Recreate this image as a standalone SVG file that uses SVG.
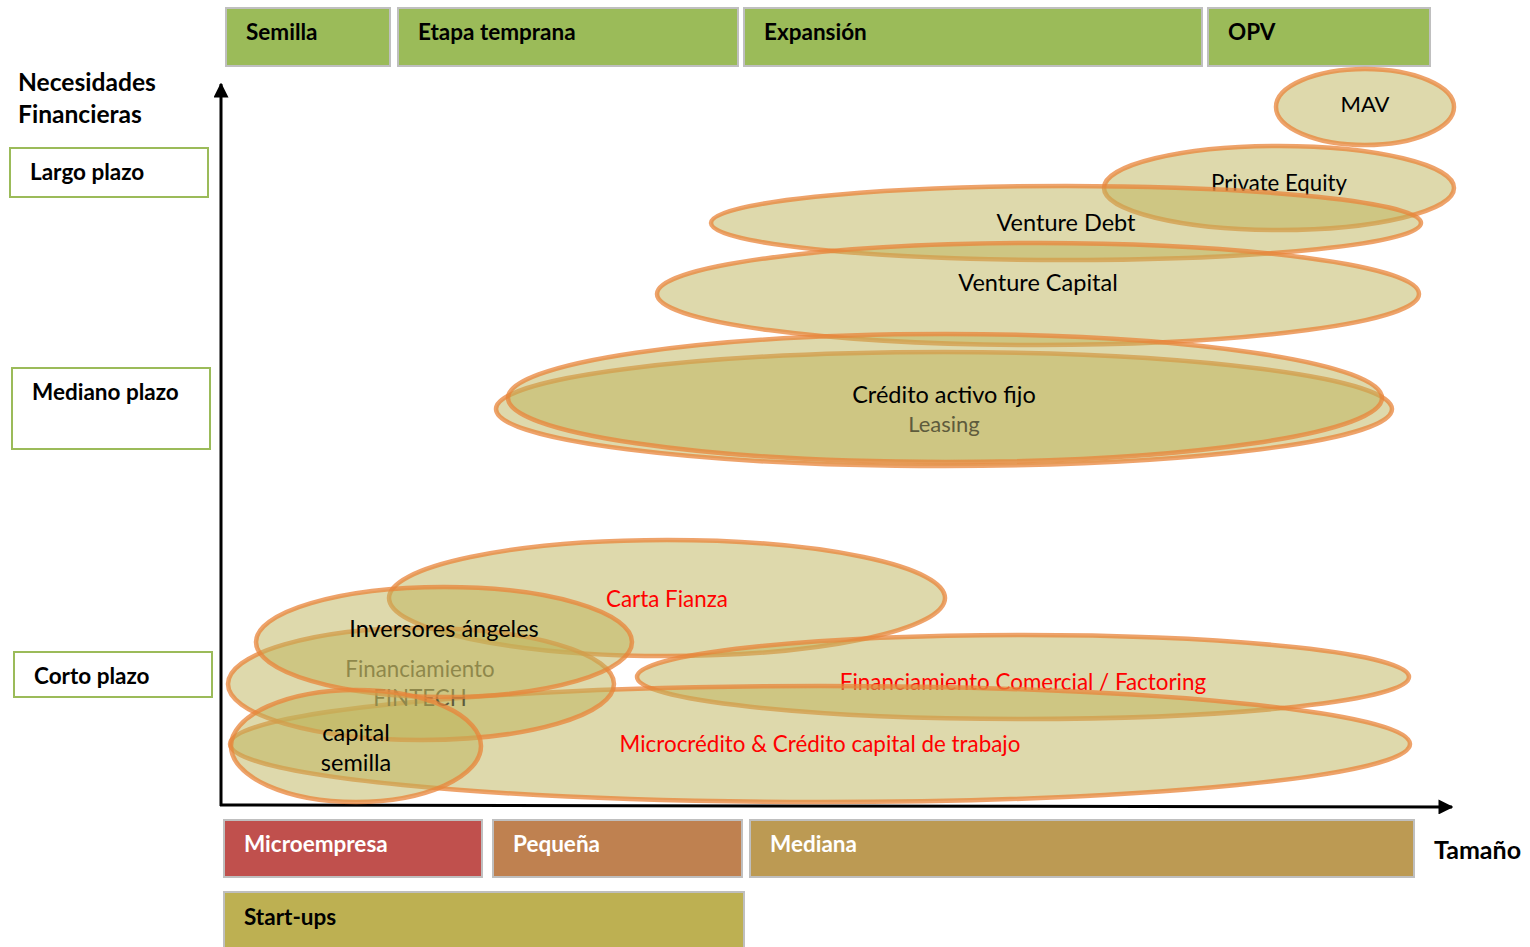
<svg xmlns="http://www.w3.org/2000/svg" width="1530" height="947" viewBox="0 0 1530 947">
<style>
.stage{fill:#9BBB59;stroke:#BFBFBF;stroke-width:2}
.term{fill:#FFFFFF;stroke:#9BBB59;stroke-width:2}
.hb{font-family:Lato,"Open Sans",sans-serif;font-weight:bold;font-size:22.5px;fill:#000}
.wb{font-family:Lato,"Open Sans",sans-serif;font-weight:bold;font-size:22.5px;fill:#FFFFFF}
.el{fill:#BDB35A;fill-opacity:0.5;stroke:#E8843A;stroke-opacity:0.75;stroke-width:4.5}
.t{font-family:Lato,"Open Sans",sans-serif;font-size:23.5px;fill:#000;text-anchor:middle}
.r{fill:#FF0000;font-size:22.4px}
.g{fill:#5E5B3C;font-size:22.3px}
.ax{stroke:#000;stroke-width:3;fill:none}
</style>
<defs>
<marker id="arr" viewBox="0 0 10 10" refX="9" refY="5" markerWidth="5" markerHeight="5" orient="auto" markerUnits="strokeWidth">
<path d="M0,0 L10,5 L0,10 z" fill="#000"/>
</marker>
</defs>
<g id="stage-semilla"><rect class="stage" x="226" y="8" width="164" height="58"/><text class="hb" x="246" y="40">Semilla</text></g>
<g id="stage-temprana"><rect class="stage" x="398" y="8" width="340" height="58"/><text class="hb" x="418" y="40">Etapa temprana</text></g>
<g id="stage-expansion"><rect class="stage" x="744" y="8" width="458" height="58"/><text class="hb" x="764" y="40">Expansión</text></g>
<g id="stage-opv"><rect class="stage" x="1208" y="8" width="222" height="58"/><text class="hb" x="1228" y="40">OPV</text></g>

<g id="title-necesidades"><text class="hb" x="18" y="91" style="font-size:24.6px">Necesidades</text><text class="hb" x="18" y="123" style="font-size:24.6px">Financieras</text></g>
<g id="term-largo"><rect class="term" x="10" y="148" width="198" height="49"/><text class="hb" x="30" y="180">Largo plazo</text></g>
<g id="term-mediano"><rect class="term" x="12" y="368" width="198" height="81"/><text class="hb" x="32" y="400">Mediano plazo</text></g>
<g id="term-corto"><rect class="term" x="14" y="652" width="198" height="45"/><text class="hb" x="34" y="684">Corto plazo</text></g>

<g id="connectors">
<line class="ax" x1="221" y1="806" x2="221" y2="84" marker-end="url(#arr)"/>
<line class="ax" x1="220" y1="805" x2="1452" y2="807" marker-end="url(#arr)"/>
</g>

<g id="size-micro"><rect x="224" y="820" width="258" height="57" fill="#C0504D" stroke="#BFBFBF" stroke-width="2"/><text class="wb" x="244" y="852">Microempresa</text></g>
<g id="size-pequena"><rect x="493" y="820" width="249" height="57" fill="#BF8150" stroke="#BFBFBF" stroke-width="2"/><text class="wb" x="513" y="852">Pequeña</text></g>
<g id="size-mediana"><rect x="750" y="820" width="664" height="57" fill="#BC9A53" stroke="#BFBFBF" stroke-width="2"/><text class="wb" x="770" y="852">Mediana</text></g>
<g id="size-startups"><rect x="224" y="892" width="520" height="60" fill="#BDB052" stroke="#BFBFBF" stroke-width="2"/><text class="hb" x="244" y="925">Start-ups</text></g>
<g id="label-tamano"><text class="hb" x="1434" y="859" style="font-size:25px">Tamaño</text></g>

<g id="mav"><ellipse class="el" cx="1365" cy="107" rx="89" ry="38"/><text class="t" x="1365" y="112" style="font-size:22px">MAV</text></g>
<g id="private-equity"><ellipse class="el" cx="1279" cy="188" rx="175" ry="42"/><text class="t" x="1279" y="191" style="font-size:22.2px">Private Equity</text></g>
<g id="venture-debt"><ellipse class="el" cx="1066" cy="223" rx="355" ry="37"/><text class="t" x="1066" y="231">Venture Debt</text></g>
<g id="venture-capital"><ellipse class="el" cx="1038" cy="294" rx="381" ry="51"/><text class="t" x="1038" y="291">Venture Capital</text></g>
<g id="credito-activo"><ellipse class="el" cx="944" cy="409" rx="448" ry="57"/><ellipse class="el" cx="945" cy="398" rx="437" ry="64"/><text class="t" x="944" y="403">Crédito activo fijo</text><text class="t g" x="944" y="432" style="font-size:22px">Leasing</text></g>
<g id="carta-fianza"><ellipse class="el" cx="667" cy="598" rx="278" ry="58"/><text class="t r" x="667" y="607">Carta Fianza</text></g>
<g id="factoring"><ellipse class="el" cx="1023" cy="677" rx="386" ry="42"/><text class="t r" x="1023" y="690">Financiamiento Comercial / Factoring</text></g>
<g id="microcredito"><ellipse class="el" cx="820" cy="744" rx="590" ry="58"/><text class="t r" x="820" y="752">Microcrédito &amp; Crédito capital de trabajo</text></g>
<g id="fintech"><ellipse class="el" cx="421" cy="684" rx="193" ry="56"/><text class="t g" x="420" y="677">Financiamiento</text><text class="t g" x="420" y="706">FINTECH</text></g>
<g id="inversores"><ellipse class="el" cx="444" cy="642" rx="188" ry="55"/><text class="t" x="444" y="637">Inversores ángeles</text></g>
<g id="capital-semilla"><ellipse class="el" cx="356" cy="746" rx="125" ry="56"/><text class="t" x="356" y="741">capital</text><text class="t" x="356" y="771">semilla</text></g>
</svg>
